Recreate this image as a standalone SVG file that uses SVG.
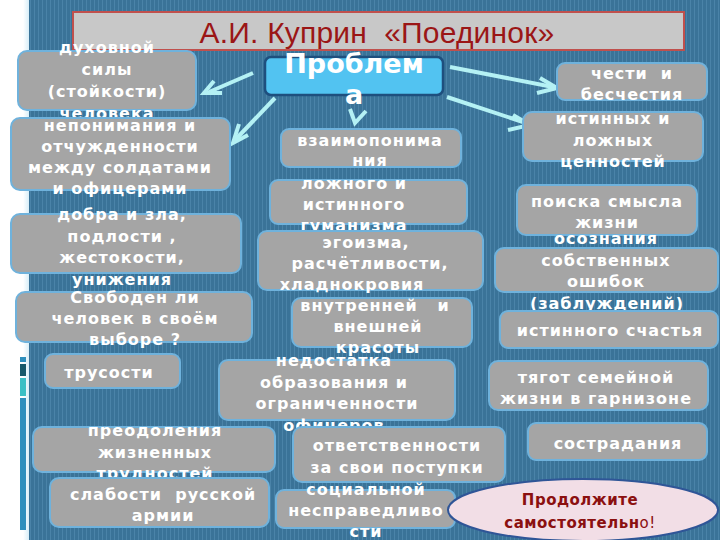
<svg xmlns="http://www.w3.org/2000/svg" width="720" height="540" viewBox="0 0 720 540">
<defs>
<pattern id="stripes" width="4" height="10" patternUnits="userSpaceOnUse">
<rect width="4" height="10" fill="#3a7398"/>
<rect x="2" width="1" height="10" fill="#4a83a8"/>
</pattern>
<linearGradient id="glow" x1="0" x2="1" y1="0" y2="0">
<stop offset="0" stop-color="#ffffff"/>
<stop offset="0.8" stop-color="#ffffff"/>
<stop offset="1" stop-color="#d8eef8"/>
</linearGradient>
</defs>
<style>
.node rect{fill:#a5a5a5;stroke:#6fb2dc;stroke-width:2}
.node text{font-family:"DejaVu Sans","Noto Sans",sans-serif;font-weight:bold;font-size:16px;fill:#ffffff;text-anchor:middle;letter-spacing:1px;white-space:pre}
.arr{stroke:#b4f1f4;stroke-width:4;fill:none;stroke-linecap:butt;stroke-linejoin:miter}
</style>
<rect width="720" height="540" fill="url(#stripes)"/>
<rect width="29" height="540" fill="url(#glow)"/>
<rect x="20" y="357" width="6" height="5" fill="#2e8fbd"/>
<rect x="20" y="364" width="6" height="12" fill="#17596b"/>
<rect x="20" y="378" width="6" height="18" fill="#3bbfc5"/>
<rect x="20" y="398" width="6" height="132" fill="#2e8fbd"/>

<g id="title">
<rect x="73" y="12" width="611" height="38" fill="#c8c8c8" stroke="#c0504d" stroke-width="2"/>
<text x="377" y="43" font-family="Liberation Sans, Arial, sans-serif" font-size="30" fill="#9b1616" text-anchor="middle" letter-spacing="0.2" xml:space="preserve" style="white-space:pre">А.И. Куприн  «Поединок»</text>
</g>

<g id="connectors">
<polyline class="arr" points="253,73 209,92"/>
<polyline class="arr" points="214,81 204,93 222,93"/>
<polyline class="arr" points="275,98 236,139"/>
<polyline class="arr" points="239,124 233,143 248,135"/>
<polyline class="arr" points="350,109 355,123 366,111"/>
<polyline class="arr" points="450,67 553,87"/>
<polyline class="arr" points="540,78 557,88 537,93"/>
<polyline class="arr" points="447,97 526,123"/>
<polyline class="arr" points="513,115 530,125 508,130"/>
</g>

<g id="problem">
<rect x="265" y="57" width="178" height="38" rx="6" fill="#52c3f1" stroke="#1e4f7e" stroke-width="2.5"/>
<text x="354" y="73" font-family="DejaVu Sans, sans-serif" font-weight="bold" font-size="27" fill="#ffffff" text-anchor="middle">Проблем</text>
<text x="354" y="104" font-family="DejaVu Sans, sans-serif" font-weight="bold" font-size="27" fill="#ffffff" text-anchor="middle">а</text>
</g>

<g id="n-duh" class="node">
<rect x="18" y="51" width="178" height="59" rx="9"/>
<text x="107" y="53"><tspan x="107">духовной</tspan><tspan x="107" dy="22">силы</tspan><tspan x="107" dy="22">(стойкости)</tspan><tspan x="107" dy="22">человека</tspan></text>
</g>
<g id="n-neponim" class="node">
<rect x="11" y="118" width="219" height="72" rx="9"/>
<text x="120" y="131"><tspan x="120">непонимания и</tspan><tspan x="120" dy="21">отчужденности</tspan><tspan x="120" dy="21">между солдатами</tspan><tspan x="120" dy="21">и офицерами</tspan></text>
</g>
<g id="n-dobra" class="node">
<rect x="11" y="214" width="230" height="59" rx="9"/>
<text x="122" y="220"><tspan x="122">добра и зла,</tspan><tspan x="122" dy="21.5">подлости ,</tspan><tspan x="122" dy="21.5">жестокости,</tspan><tspan x="122" dy="21.5">унижения</tspan></text>
</g>
<g id="n-svoboden" class="node">
<rect x="16" y="292" width="236" height="50" rx="9"/>
<text x="135" y="303"><tspan x="135">Свободен ли</tspan><tspan x="135" dy="21">человек в своём</tspan><tspan x="135" dy="21">выборе ?</tspan></text>
</g>
<g id="n-trus" class="node">
<rect x="45" y="354" width="135" height="34" rx="8"/>
<text x="109" y="378">трусости</text>
</g>
<g id="n-preod" class="node">
<rect x="33" y="427" width="242" height="45" rx="9"/>
<text x="155" y="436"><tspan x="155">преодоления</tspan><tspan x="155" dy="21.5">жизненных</tspan><tspan x="155" dy="21.5">трудностей</tspan></text>
</g>
<g id="n-slab" class="node">
<rect x="50" y="478" width="219" height="49" rx="9"/>
<text x="163" y="500" xml:space="preserve"><tspan x="163">слабости  русской</tspan><tspan x="163" dy="21">армии</tspan></text>
</g>

<g id="n-vzaim" class="node">
<rect x="281" y="129" width="180" height="38" rx="8"/>
<text x="370" y="146"><tspan x="370">взаимопонима</tspan><tspan x="370" dy="20">ния</tspan></text>
</g>
<g id="n-lozh" class="node">
<rect x="270" y="180" width="197" height="44" rx="8"/>
<text x="354" y="189"><tspan x="354">ложного и</tspan><tspan x="354" dy="21">истинного</tspan><tspan x="354" dy="21">гуманизма</tspan></text>
</g>
<g id="n-ego" class="node">
<rect x="258" y="231" width="225" height="59" rx="9"/>
<text x="370" y="248"><tspan x="366">эгоизма,</tspan><tspan x="370" dy="21">расчётливости,</tspan><tspan x="352" dy="21">хладнокровия</tspan></text>
</g>
<g id="n-vnutr" class="node">
<rect x="292" y="298" width="180" height="49" rx="9"/>
<text x="378" y="311" xml:space="preserve"><tspan x="375">внутренней   и</tspan><tspan x="378" dy="21">внешней</tspan><tspan x="378" dy="21">красоты</tspan></text>
</g>
<g id="n-nedost" class="node">
<rect x="219" y="360" width="236" height="60" rx="9"/>
<text x="336" y="366"><tspan x="334">недостатка</tspan><tspan x="334" dy="21.5">образования и</tspan><tspan x="337" dy="21.5">ограниченности</tspan><tspan x="334" dy="21.5">офицеров</tspan></text>
</g>
<g id="n-otvet" class="node">
<rect x="293" y="427" width="212" height="55" rx="9"/>
<text x="397" y="451"><tspan x="397">ответственности</tspan><tspan x="397" dy="22">за свои поступки</tspan></text>
</g>
<g id="n-social" class="node">
<rect x="276" y="490" width="179" height="38" rx="8"/>
<text x="366" y="495"><tspan x="366">социальной</tspan><tspan x="366" dy="21">несправедливо</tspan><tspan x="366" dy="21">сти</tspan></text>
</g>

<g id="n-chesti" class="node">
<rect x="557" y="63" width="150" height="37" rx="8"/>
<text x="632" y="79" xml:space="preserve"><tspan x="632">чести  и</tspan><tspan x="632" dy="21">бесчестия</tspan></text>
</g>
<g id="n-istin" class="node">
<rect x="523" y="112" width="180" height="49" rx="9"/>
<text x="613" y="124"><tspan x="613">истинных и</tspan><tspan x="613" dy="21.5">ложных</tspan><tspan x="613" dy="21.5">ценностей</tspan></text>
</g>
<g id="n-poiska" class="node">
<rect x="517" y="185" width="180" height="50" rx="9"/>
<text x="607" y="207"><tspan x="607">поиска смысла</tspan><tspan x="607" dy="21">жизни</tspan></text>
</g>
<g id="n-osozn" class="node">
<rect x="495" y="248" width="223" height="44" rx="9"/>
<text x="606" y="244"><tspan x="606">осознания</tspan><tspan x="606" dy="21.5">собственных</tspan><tspan x="606" dy="21.5">ошибок</tspan><tspan x="607" dy="21.5">(заблуждений)</tspan></text>
</g>
<g id="n-schast" class="node">
<rect x="500" y="311" width="218" height="37" rx="8"/>
<text x="610" y="336">истинного счастья</text>
</g>
<g id="n-tyagot" class="node">
<rect x="489" y="361" width="219" height="49" rx="9"/>
<text x="596" y="383"><tspan x="596">тягот семейной</tspan><tspan x="596" dy="21">жизни в гарнизоне</tspan></text>
</g>
<g id="n-sostr" class="node">
<rect x="528" y="423" width="179" height="37" rx="8"/>
<text x="618" y="449">сострадания</text>
</g>

<g id="continue">
<ellipse cx="583" cy="510" rx="135" ry="31" fill="#f2dee6" stroke="#2f5597" stroke-width="2"/>
<text x="580" y="505" font-family="DejaVu Sans, sans-serif" font-weight="bold" font-size="15" fill="#8b1010" text-anchor="middle" letter-spacing="0.5">Продолжите</text>
<text x="580" y="528" font-family="DejaVu Sans, sans-serif" font-size="15" fill="#8b1010" text-anchor="middle" letter-spacing="0.5"><tspan font-weight="bold">самостоятельн</tspan>о!</text>
</g>
</svg>
